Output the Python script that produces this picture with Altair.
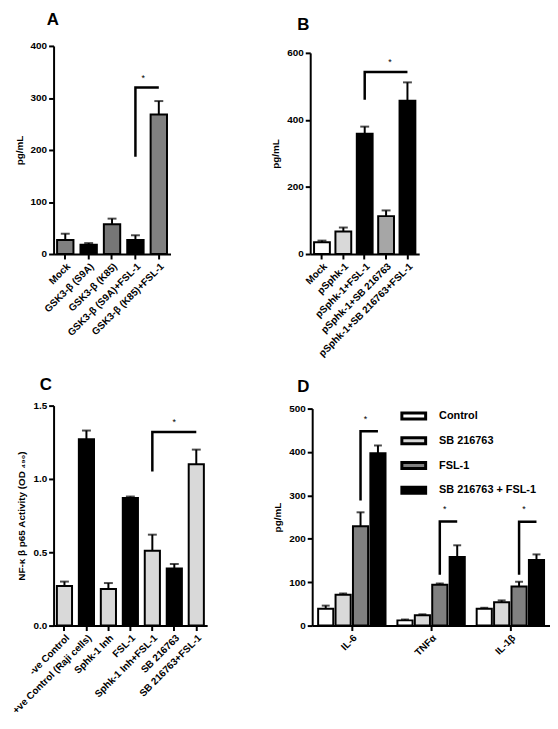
import altair as alt
import pandas as pd

FONT = "Liberation Sans"

# ---------------- Panel A ----------------
A_cats = ["Mock", "GSK3-β (S9A)", "GSK3-β (K85)", "GSK3-β (S9A)+FSL-1", "GSK3-β (K85)+FSL-1"]
A_vals = [27, 18, 57, 27, 268]
A_err = [12, 3, 11, 9, 26]
A_colors = ["#808080", "#000000", "#767676", "#000000", "#808080"]
A_br_cats = ["GSK3-β (S9A)+FSL-1", "GSK3-β (S9A)+FSL-1", "GSK3-β (K85)+FSL-1"]
A_br_vals = [187, 320, 320]
A_star_cat = ["GSK3-β (S9A)+FSL-1"]
A_star_val = [338]
A_ticks = [0, 100, 200, 300, 400]

# ---------------- Panel B ----------------
B_cats = ["Mock", "pSphk-1", "pSphk-1+FSL-1", "pSphk-1+SB 216763", "pSphk-1+SB 216763+FSL-1"]
B_vals = [35, 67, 359, 113, 457]
B_err = [5, 12, 21, 17, 55]
B_colors = ["#ffffff", "#d9d9d9", "#000000", "#a6a6a6", "#000000"]
B_br_cats = ["pSphk-1+FSL-1", "pSphk-1+FSL-1", "pSphk-1+SB 216763+FSL-1"]
B_br_vals = [460, 543, 543]
B_star_cat = ["pSphk-1+SB 216763"]
B_star_val = [573]
B_ticks = [0, 200, 400, 600]

# ---------------- Panel C ----------------
C_cats = ["-ve Control", "+ve Control (Raji cells)", "Sphk-1 Inh", "FSL-1",
          "Sphk-1 Inh+FSL-1", "SB 216763", "SB 216763+FSL-1"]
C_vals = [0.27, 1.27, 0.25, 0.87, 0.51, 0.39, 1.10]
C_err = [0.03, 0.06, 0.04, 0.01, 0.11, 0.03, 0.10]
C_colors = ["#d9d9d9", "#000000", "#d9d9d9", "#000000", "#d9d9d9", "#000000", "#d9d9d9"]
C_br_cats = ["Sphk-1 Inh+FSL-1", "Sphk-1 Inh+FSL-1", "SB 216763+FSL-1"]
C_br_vals = [1.05, 1.32, 1.32]
C_star_cat = ["SB 216763"]
C_star_val = [1.39]
C_ticks = [0.0, 0.5, 1.0, 1.5]

# ---------------- Panel D ----------------
D_groups = ["IL-6", "TNFα", "IL-1β"]
D_series = ["Control", "SB 216763", "FSL-1", "SB 216763 + FSL-1"]
D_colors = ["#ffffff", "#d9d9d9", "#808080", "#000000"]
D_vals = {
    "IL-6": [39, 71, 229, 397],
    "TNFα": [12, 24, 94, 158],
    "IL-1β": [39, 54, 90, 151],
}
D_err = {
    "IL-6": [7, 3, 32, 18],
    "TNFα": [2, 2, 3, 27],
    "IL-1β": [2, 4, 11, 13],
}
D_br_bottom = [288, 117, 117]
D_br_top = [448, 240, 239]
D_star_val = [475, 269, 269]
D_ticks = [0, 100, 200, 300, 400, 500]


def panel_title(letter, dx, offset):
    return alt.TitleParams(letter, anchor="start", frame="group", dx=dx, offset=offset,
                           fontSize=17, fontWeight="bold", font=FONT, color="black")


def simple_panel(cats, vals, errs, colors, br_cats, br_vals, star_cat, star_val, star_dx,
                 letter, tdx, toff, ytitle, ydomain, yticks, yfmt, width, height, yrange,
                 pad_in, pad_out):
    df = pd.DataFrame({"cat": cats, "val": vals, "err": errs})
    df["hi"] = df["val"] + df["err"]
    br = pd.DataFrame({"cat": br_cats, "val": br_vals, "ord": list(range(len(br_cats)))})
    st = pd.DataFrame({"cat": star_cat, "val": star_val})

    xenc = alt.X("cat:N", sort=cats,
                 scale=alt.Scale(domain=cats, paddingInner=pad_in, paddingOuter=pad_out),
                 axis=alt.Axis(title=None, labelAngle=-45, labelOverlap=False))
    yscale = alt.Scale(domain=ydomain, range=yrange, nice=False, zero=True)
    yaxis = alt.Axis(title=ytitle, values=yticks, format=yfmt)
    yenc = alt.Y("val:Q", scale=yscale, axis=yaxis)

    bars = alt.Chart(df).mark_bar(stroke="black", strokeWidth=2).encode(
        x=xenc, y=yenc,
        color=alt.Color("cat:N", scale=alt.Scale(domain=cats, range=colors), legend=None))
    err = alt.Chart(df).mark_rule(color="black", strokeWidth=2).encode(
        x=xenc, y=yenc, y2="hi:Q")
    cap = alt.Chart(df).mark_tick(color="black", thickness=2, size=9).encode(
        x=xenc, y=alt.Y("hi:Q", scale=yscale, axis=yaxis))
    bracket = alt.Chart(br).mark_line(color="black", strokeWidth=2.5, strokeCap="butt",
                                      strokeJoin="miter").encode(
        x=xenc, y=yenc, order=alt.Order("ord:Q"))
    star = alt.Chart(st).mark_text(text="*", fontSize=9, font=FONT, dx=star_dx,
                                   color="black").encode(x=xenc, y=yenc)
    return alt.layer(err, cap, bars, bracket, star).properties(
        width=width, height=height, title=panel_title(letter, tdx, toff))


A = simple_panel(A_cats, A_vals, A_err, A_colors, A_br_cats, A_br_vals, A_star_cat, A_star_val, 8,
                 "A", -7, 12, "pg/mL", [0, 400], A_ticks, "d", 118, 210, [210, 0], 0.3, 0.15)
B = simple_panel(B_cats, B_vals, B_err, B_colors, B_br_cats, B_br_vals, B_star_cat, B_star_val, 4,
                 "B", -13, 12, "pg/mL", [0, 600], B_ticks, "d", 110, 210, [210, 7], 0.26, 0.18)
C = simple_panel(C_cats, C_vals, C_err, C_colors, C_br_cats, C_br_vals, C_star_cat, C_star_val, 0,
                 "C", -14, 7, "NF-κ β p65 Activity (OD ₄₉₀)", [0, 1.5], C_ticks, ".1f",
                 155, 222, [222, 0], 0.31, 0.15)

# ---- D (grouped) ----
rows = []
for g in D_groups:
    for s, v, e in zip(D_series, D_vals[g], D_err[g]):
        rows.append({"grp": g, "ser": s, "val": v, "hi": v + e})
ddf = pd.DataFrame(rows)
brows = []
for i, g in enumerate(D_groups):
    brows.append({"bid": i, "ord": 0, "grp": g, "ser": "FSL-1", "val": D_br_bottom[i]})
    brows.append({"bid": i, "ord": 1, "grp": g, "ser": "FSL-1", "val": D_br_top[i]})
    brows.append({"bid": i, "ord": 2, "grp": g, "ser": "SB 216763 + FSL-1", "val": D_br_top[i]})
dbr = pd.DataFrame(brows)
dst = pd.DataFrame({"grp": D_groups, "ser": ["FSL-1"] * 3, "val": D_star_val})

dx_enc = alt.X("grp:N", sort=D_groups,
               scale=alt.Scale(domain=D_groups, paddingInner=0.15, paddingOuter=0.075),
               axis=alt.Axis(title=None, labelAngle=-45, labelOverlap=False))
dxo_enc = alt.XOffset("ser:N", sort=D_series,
                      scale=alt.Scale(domain=D_series, paddingInner=0.13, paddingOuter=0))
dyscale = alt.Scale(domain=[0, 500], range=[222, 3], nice=False, zero=True)
dyaxis = alt.Axis(title="pg/mL", values=D_ticks, format="d")
dy_enc = alt.Y("val:Q", scale=dyscale, axis=dyaxis)

d_bars = alt.Chart(ddf).mark_bar(stroke="black", strokeWidth=2).encode(
    x=dx_enc, xOffset=dxo_enc, y=dy_enc,
    color=alt.Color("ser:N", scale=alt.Scale(domain=D_series, range=D_colors),
                    legend=alt.Legend(title=None, orient="none", legendX=89, legendY=-3,
                                      symbolType="M-1,-0.25L1,-0.25L1,0.25L-1,0.25Z",
                                      symbolSize=576, symbolStrokeColor="black",
                                      symbolStrokeWidth=3, labelFont=FONT, labelFontSize=11,
                                      labelFontWeight="bold", labelColor="black",
                                      labelOffset=12, rowPadding=2, padding=0)))
d_err = alt.Chart(ddf).mark_rule(color="black", strokeWidth=2).encode(
    x=dx_enc, xOffset=dxo_enc, y=dy_enc, y2="hi:Q")
d_cap = alt.Chart(ddf).mark_tick(color="black", thickness=2, size=8).encode(
    x=dx_enc, xOffset=dxo_enc, y=alt.Y("hi:Q", scale=dyscale, axis=dyaxis))
d_br = alt.Chart(dbr).mark_line(color="black", strokeWidth=2.5, strokeCap="butt",
                                strokeJoin="miter").encode(
    x=dx_enc, xOffset=dxo_enc, y=dy_enc, detail="bid:N", order=alt.Order("ord:Q"))
d_star = alt.Chart(dst).mark_text(text="*", fontSize=9, font=FONT, dx=5, color="black").encode(
    x=dx_enc, xOffset=dxo_enc, y=dy_enc)
D = alt.layer(d_err, d_cap, d_bars, d_br, d_star).properties(
    width=240, height=222, title=panel_title("D", -15, 7))

row1 = alt.hconcat(A, B, spacing=141, bounds="flush").resolve_scale(color="independent")
row2 = alt.hconcat(C, D, spacing=106, bounds="flush").resolve_scale(color="independent")
chart = alt.vconcat(row1, row2, spacing=17).resolve_scale(color="independent").properties(
    padding={"left": 2, "top": 0, "right": 0, "bottom": 0},
).configure_view(stroke=None).configure_axis(
    domainColor="black", domainWidth=2, tickColor="black", tickWidth=2, tickSize=5,
    labelFont=FONT, labelFontSize=10, labelFontWeight="bold", labelColor="black",
    titleFont=FONT, titleFontSize=10, titleFontWeight="bold", titleColor="black",
    grid=False, labelPadding=2, titlePadding=6,
)

chart.save("out.html", embed_options={"renderer": "svg", "actions": False})
